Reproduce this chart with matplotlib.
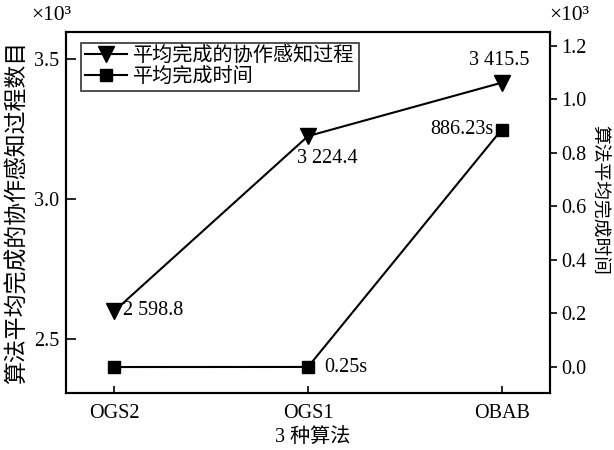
import matplotlib
matplotlib.use("Agg")
import matplotlib.pyplot as plt
from matplotlib.ticker import FuncFormatter, FixedLocator
from matplotlib.lines import Line2D

plt.rcParams['font.family'] = ['Liberation Serif', 'Noto Sans CJK SC', 'DejaVu Sans']
plt.rcParams['axes.unicode_minus'] = False

# data
algorithms = ["OGS2", "OGS1", "OBAB"]
process_counts = [2598.8, 3224.4, 3415.5]      # 平均完成的协作感知过程
finish_times = [0.0, 0.25, 886.23]              # 平均完成时间 (s)
count_labels = ["2 598.8", "3 224.4", "3 415.5"]
time_labels = ["", "0.25s", "886.23s"]

fig = plt.figure(figsize=(6.14, 4.5), dpi=100)
ax = fig.add_axes([66 / 614, 57 / 450, 484 / 614, 361 / 450])
ax2 = ax.twinx()

x = list(range(len(algorithms)))
ax.plot(x, process_counts, color='black', lw=1.5, marker='v', ms=11,
        mfc='black', mec='black', zorder=3)
ax2.plot(x, finish_times, color='black', lw=1.5, marker='s', ms=8.5,
         mfc='black', mec='black', zorder=3)

ax.set_xlim(-0.25, 2.25)
ax.set_ylim(2305, 3597)
ax2.set_ylim(-97, 1251)

ax.set_xticks(x)
ax.set_xticklabels(algorithms)
ax.yaxis.set_major_locator(FixedLocator([2500, 3000, 3500]))
ax.yaxis.set_major_formatter(FuncFormatter(lambda v, p: f"{v / 1000:.1f}"))
ax2.yaxis.set_major_locator(FixedLocator([0, 200, 400, 600, 800, 1000, 1200]))
ax2.yaxis.set_major_formatter(FuncFormatter(lambda v, p: f"{v / 1000:.1f}"))

fs = 14.5
ax.tick_params(axis='x', direction='in', length=5, width=1.2, labelsize=fs, pad=8, top=False)
ax.tick_params(axis='y', direction='in', length=7, width=1.2, labelsize=fs, pad=5, right=False)
ax2.tick_params(axis='y', direction='out', length=5, width=1.2, labelsize=fs, pad=3)

for a in (ax, ax2):
    for s in a.spines.values():
        s.set_linewidth(1.5)

ax.set_xlabel("3 种算法", fontsize=fs, va='center')
ax.xaxis.set_label_coords(0.51, -0.122)
ax.set_ylabel("算法平均完成的协作感知过程数目", fontsize=16.5, va='center')
ax.yaxis.set_label_coords(-0.099, 0.5)
ax2.set_ylabel("算法平均完成时间", fontsize=13.5, rotation=-90, va='center')
ax2.yaxis.set_label_coords(1.099, 0.535)

fig.text(51 / 614, 1 - 15 / 450, "×10³", fontsize=15.5, ha='center', va='center')
fig.text(569 / 614, 1 - 15 / 450, "×10³", fontsize=15.5, ha='center', va='center')

# value annotations
ax.annotate(count_labels[0], (x[0], process_counts[0]), xytext=(9, 0),
            textcoords='offset pixels', ha='left', va='center', fontsize=fs)
ax.annotate(count_labels[1], (x[1], process_counts[1]), xytext=(-11, -22),
            textcoords='offset pixels', ha='left', va='center', fontsize=fs)
ax.annotate(count_labels[2], (x[2], process_counts[2]), xytext=(-2, 22),
            textcoords='offset pixels', ha='center', va='center', fontsize=fs)
ax2.annotate(time_labels[1], (x[1], finish_times[1]), xytext=(16, -1),
             textcoords='offset pixels', ha='left', va='center', fontsize=fs)
ax2.annotate(time_labels[2], (x[2], finish_times[2]), xytext=(-8, 0),
             textcoords='offset pixels', ha='right', va='center', fontsize=fs)

handles = [
    Line2D([], [], color='black', lw=1.5, marker='v', ms=11),
    Line2D([], [], color='black', lw=1.5, marker='s', ms=8.5),
]
leg = ax2.legend(handles, ["平均完成的协作感知过程", "平均完成时间"],
                 loc='upper left', bbox_to_anchor=(15 / 484, 1 - 11 / 361),
                 frameon=True, fancybox=False, edgecolor='black',
                 fontsize=14.5, handlelength=2.1, handletextpad=0.3,
                 borderpad=0.2, labelspacing=0.1, borderaxespad=0)
leg.get_frame().set_linewidth(1.2)

fig.savefig("out.png", dpi=100)
